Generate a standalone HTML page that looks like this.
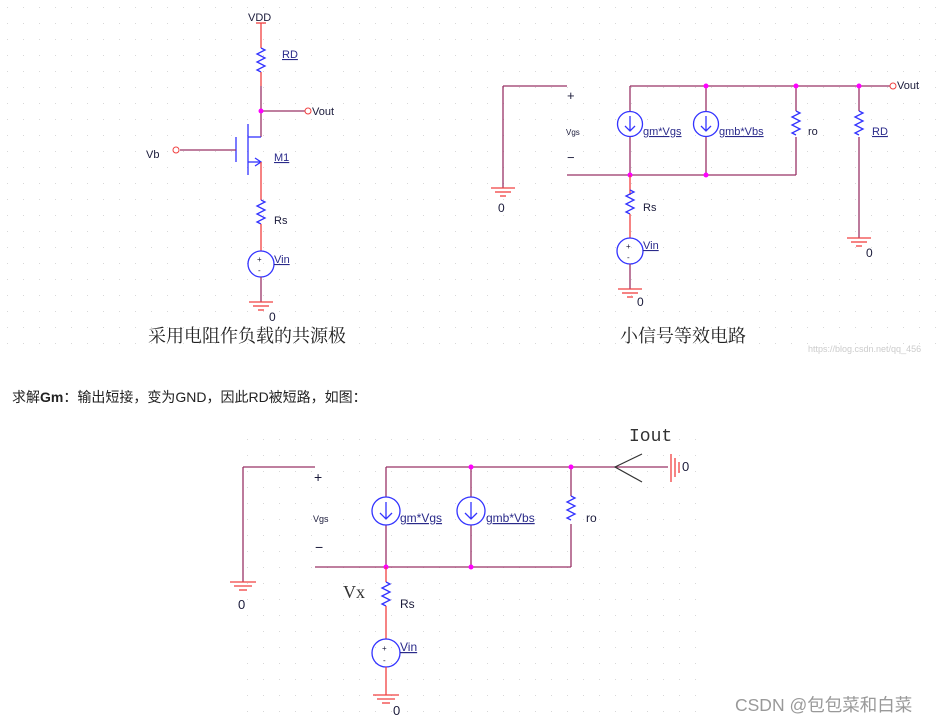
<!DOCTYPE html>
<html><head><meta charset="utf-8"><style>
body{margin:0;background:#fff;width:941px;height:723px;overflow:hidden}
svg{display:block}
.w{stroke:#993366;stroke-width:1.3;fill:none}
.r{stroke:#f04040;stroke-width:1.3;fill:none}
.b{stroke:#3333ff;stroke-width:1.3;fill:none}
.t{font-family:"Liberation Sans",sans-serif;font-size:11px;fill:#1a1a3a}
.u{font-family:"Liberation Sans",sans-serif;font-size:11px;fill:#2a2a8a;text-decoration:underline}
.cn{font-family:"Liberation Serif","Noto Serif CJK SC",serif;font-size:18px;fill:#222}
.dot{fill:#ff00ff}
</style></head><body>
<svg width="941" height="723" xmlns="http://www.w3.org/2000/svg">
<defs>
<pattern id="g" width="16" height="16" patternUnits="userSpaceOnUse"><rect x="7" y="7" width="1" height="1" fill="#d8d8d8"/></pattern>
</defs>
<rect x="0" y="0" width="941" height="355" fill="url(#g)"/>
<rect x="236" y="425" width="470" height="295" fill="url(#g)"/>

<!-- Circuit 1 -->
<text class="t" x="248" y="21">VDD</text>
<line class="r" x1="256" y1="23" x2="266" y2="23"/>
<line class="r" x1="261" y1="23" x2="261" y2="48"/>
<path class="b" d="M261 48 l4 2 l-8 4 l8 4 l-8 4 l8 4 l-8 4 l4 2"/>
<line class="r" x1="261" y1="72" x2="261" y2="86"/>
<line class="w" x1="261" y1="86" x2="261" y2="137"/>
<line class="w" x1="261" y1="111" x2="305" y2="111"/>
<circle cx="308" cy="111" r="3" fill="#fff" stroke="#f04040"/>
<text class="t" x="312" y="115">Vout</text>
<circle class="dot" cx="261" cy="111" r="2.5"/>
<text class="u" x="282" y="58">RD</text>
<line class="b" x1="248" y1="137" x2="261" y2="137"/>
<line class="b" x1="248" y1="124" x2="248" y2="175"/>
<line class="b" x1="236" y1="137" x2="236" y2="162"/>
<line class="b" x1="248" y1="162" x2="261" y2="162"/>
<path class="b" d="M255 158 L261 162 L255 166"/>
<line class="w" x1="180" y1="150" x2="236" y2="150"/>
<circle cx="176" cy="150" r="3" fill="#fff" stroke="#f04040"/>
<text class="t" x="146" y="158">Vb</text>
<text class="u" x="274" y="161">M1</text>
<line class="r" x1="261" y1="162" x2="261" y2="200"/>
<path class="b" d="M261 200 l4 2 l-8 4 l8 4 l-8 4 l8 4 l-8 4 l4 2"/>
<text class="t" x="274" y="224">Rs</text>
<line class="r" x1="261" y1="224" x2="261" y2="251"/>
<circle class="b" cx="261" cy="264" r="13"/>
<text class="t" x="257" y="262" style="font-size:8px">+</text>
<text class="t" x="258" y="273" style="font-size:8px">-</text>
<text class="u" x="274" y="263">Vin</text>
<line class="w" x1="261" y1="277" x2="261" y2="302"/>
<line class="r" x1="249" y1="302" x2="273" y2="302"/><line class="r" x1="253" y1="306" x2="269" y2="306"/><line class="r" x1="258" y1="310" x2="264" y2="310"/>
<text class="t" x="269" y="321" style="font-size:12px">0</text>

<text class="cn" x="148" y="342">采用电阻作负载的共源极</text>
<text class="cn" x="620" y="342">小信号等效电路</text>
<text x="808" y="352" style="font-family:'Liberation Sans',sans-serif;font-size:9px;fill:#ccc">https://blog.csdn.net/qq_456</text>

<!-- Circuit 2 -->
<line class="w" x1="503" y1="86" x2="567" y2="86"/>
<line class="w" x1="503" y1="86" x2="503" y2="188"/>
<line class="r" x1="491" y1="188" x2="515" y2="188"/><line class="r" x1="495" y1="192" x2="511" y2="192"/><line class="r" x1="500" y1="196" x2="506" y2="196"/>
<text class="t" x="498" y="212" style="font-size:12px">0</text>
<text class="t" x="567" y="100" style="font-size:13px">+</text>
<text class="t" x="566" y="135" style="font-size:8px">Vgs</text>
<text class="t" x="567" y="162" style="font-size:13px">−</text>
<line class="w" x1="567" y1="175" x2="796" y2="175"/>
<line class="w" x1="630" y1="86" x2="890" y2="86"/>
<circle cx="893" cy="86" r="3" fill="#fff" stroke="#f04040"/>
<text class="t" x="897" y="89">Vout</text>
<line class="w" x1="630" y1="86" x2="630" y2="175"/>
<line class="w" x1="706" y1="86" x2="706" y2="175"/>
<line class="w" x1="796" y1="86" x2="796" y2="175"/>
<line class="w" x1="859" y1="86" x2="859" y2="238"/>
<circle cx="630" cy="124" r="12.5" fill="#fff" stroke="#3333ff" stroke-width="1.3"/>
<path class="b" d="M630 116 V131 M625 126 L630 131 L635 126"/>
<circle cx="706" cy="124" r="12.5" fill="#fff" stroke="#3333ff" stroke-width="1.3"/>
<path class="b" d="M706 116 V131 M701 126 L706 131 L711 126"/>
<text class="u" x="643" y="135">gm*Vgs</text>
<text class="u" x="719" y="135">gmb*Vbs</text>
<rect x="790" y="111" width="12" height="26" fill="#fff"/>
<path class="b" d="M796 111 l4 2 l-8 4 l8 4 l-8 4 l8 4 l-8 4 l4 2"/>
<text class="t" x="808" y="135">ro</text>
<rect x="853" y="111" width="12" height="26" fill="#fff"/>
<path class="b" d="M859 111 l4 2 l-8 4 l8 4 l-8 4 l8 4 l-8 4 l4 2"/>
<text class="u" x="872" y="135">RD</text>
<line class="r" x1="847" y1="238" x2="871" y2="238"/><line class="r" x1="851" y1="242" x2="867" y2="242"/><line class="r" x1="856" y1="246" x2="862" y2="246"/>
<text class="t" x="866" y="257" style="font-size:12px">0</text>
<circle class="dot" cx="706" cy="86" r="2.5"/><circle class="dot" cx="796" cy="86" r="2.5"/><circle class="dot" cx="859" cy="86" r="2.5"/>
<circle class="dot" cx="630" cy="175" r="2.5"/><circle class="dot" cx="706" cy="175" r="2.5"/>
<line class="r" x1="630" y1="175" x2="630" y2="195"/>
<path class="b" d="M630 190 l4 2 l-8 4 l8 4 l-8 4 l8 4 l-8 4 l4 2"/>
<text class="t" x="643" y="211">Rs</text>
<line class="r" x1="630" y1="214" x2="630" y2="238"/>
<circle class="b" cx="630" cy="251" r="13"/>
<text class="t" x="626" y="249" style="font-size:8px">+</text>
<text class="t" x="627" y="260" style="font-size:8px">-</text>
<text class="u" x="643" y="249">Vin</text>
<line class="w" x1="630" y1="264" x2="630" y2="289"/>
<line class="r" x1="618" y1="289" x2="642" y2="289"/><line class="r" x1="622" y1="293" x2="638" y2="293"/><line class="r" x1="627" y1="297" x2="633" y2="297"/>
<text class="t" x="637" y="306" style="font-size:12px">0</text>

<text x="12" y="402" style="font-family:'Liberation Sans','Noto Sans CJK SC',sans-serif;font-size:14px;fill:#222">求解<tspan font-weight="bold">Gm</tspan>：输出短接，变为GND，因此RD被短路，如图：</text>

<!-- Circuit 3 -->
<line class="w" x1="243" y1="467" x2="315" y2="467"/>
<line class="w" x1="243" y1="467" x2="243" y2="582"/>
<line class="r" x1="230" y1="582" x2="256" y2="582"/><line class="r" x1="234" y1="586" x2="252" y2="586"/><line class="r" x1="239" y1="590" x2="247" y2="590"/>
<text class="t" x="238" y="609" style="font-size:13px">0</text>
<text class="t" x="314" y="482" style="font-size:14px">+</text>
<text class="t" x="313" y="522" style="font-size:9px">Vgs</text>
<text class="t" x="315" y="552" style="font-size:14px">−</text>
<line class="w" x1="315" y1="567" x2="571" y2="567"/>
<line class="w" x1="386" y1="467" x2="668" y2="467"/>
<line class="w" x1="386" y1="467" x2="386" y2="567"/>
<line class="w" x1="471" y1="467" x2="471" y2="567"/>
<line class="w" x1="571" y1="467" x2="571" y2="567"/>
<circle cx="386" cy="511" r="14" fill="#fff" stroke="#3333ff" stroke-width="1.3"/>
<path class="b" d="M386 502 V519 M380 513 L386 519 L392 513"/>
<circle cx="471" cy="511" r="14" fill="#fff" stroke="#3333ff" stroke-width="1.3"/>
<path class="b" d="M471 502 V519 M465 513 L471 519 L477 513"/>
<text class="u" x="400" y="522" style="font-size:12px">gm*Vgs</text>
<text class="u" x="486" y="522" style="font-size:12px">gmb*Vbs</text>
<rect x="564" y="496" width="14" height="28" fill="#fff"/>
<path class="b" d="M571 496 l4 2 l-8 4 l8 4 l-8 4 l8 4 l-8 4 l4 2"/>
<text class="t" x="586" y="522" style="font-size:12px">ro</text>
<path stroke="#333" stroke-width="1.2" fill="none" d="M642 454 L615 467 L642 482"/>
<line class="r" x1="671" y1="454" x2="671" y2="482"/><line class="r" x1="675" y1="458" x2="675" y2="477"/><line class="r" x1="679" y1="462" x2="679" y2="473"/>
<text class="t" x="682" y="471" style="font-size:13px">0</text>
<text x="629" y="441" style="font-family:'Liberation Mono',monospace;font-size:18px;fill:#333">Iout</text>
<circle class="dot" cx="471" cy="467" r="2.5"/><circle class="dot" cx="571" cy="467" r="2.5"/>
<circle class="dot" cx="386" cy="567" r="2.5"/><circle class="dot" cx="471" cy="567" r="2.5"/>
<line class="r" x1="386" y1="567" x2="386" y2="582"/>
<path class="b" d="M386 582 l4 2 l-8 4 l8 4 l-8 4 l8 4 l-8 4 l4 2"/>
<text x="343" y="598" style="font-family:'Liberation Serif',serif;font-size:18px;fill:#333">Vx</text>
<text class="t" x="400" y="608" style="font-size:12px">Rs</text>
<line class="r" x1="386" y1="606" x2="386" y2="639"/>
<circle class="b" cx="386" cy="653" r="14"/>
<text class="t" x="382" y="651" style="font-size:8px">+</text>
<text class="t" x="383" y="663" style="font-size:8px">-</text>
<text class="u" x="400" y="651" style="font-size:12px">Vin</text>
<line class="r" x1="386" y1="667" x2="386" y2="695"/>
<line class="r" x1="373" y1="695" x2="399" y2="695"/><line class="r" x1="377" y1="699" x2="395" y2="699"/><line class="r" x1="382" y1="703" x2="390" y2="703"/>
<text class="t" x="393" y="715" style="font-size:13px">0</text>

<text x="735" y="711" style="font-family:'Liberation Sans','Noto Sans CJK SC',sans-serif;font-size:17.5px;fill:#999">CSDN @包包菜和白菜</text>
</svg>
</body></html>
